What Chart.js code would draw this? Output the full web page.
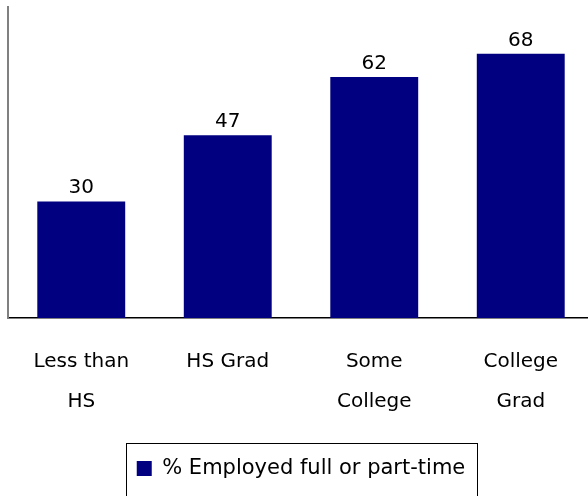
<!DOCTYPE html>
<html><head><meta charset="utf-8">
<script src="https://cdn.jsdelivr.net/npm/chart.js@4/dist/chart.umd.min.js"></script>
<style>html,body{margin:0;padding:0;background:#fff;overflow:hidden;}#wrap{width:588px;height:496px;overflow:hidden;}</style>
</head><body><div id="wrap"><canvas id="c" width="594" height="496"></canvas></div>
<script>
const categories = [['Less than','HS'], ['HS Grad'], ['Some','College'], ['College','Grad']];
const values = [30, 47, 62, 68];
const seriesName = '% Employed full or part-time';
const FONT = "'DejaVu Sans', sans-serif";

const valueLabels = {
  id: 'valueLabels',
  afterDatasetsDraw(chart) {
    const ctx = chart.ctx;
    const meta = chart.getDatasetMeta(0);
    ctx.save();
    ctx.font = "20px " + FONT;
    ctx.fillStyle = '#000';
    ctx.textAlign = 'center';
    ctx.textBaseline = 'alphabetic';
    meta.data.forEach((bar, i) => {
      ctx.fillText(String(values[i]), bar.x, bar.y - 8);
    });
    ctx.restore();
  }
};
const legendBorder = {
  id: 'legendBorder',
  afterDraw(chart) {
    const lg = chart.legend;
    if (!lg || !lg.legendHitBoxes || !lg.legendHitBoxes.length) return;
    const hb = lg.legendHitBoxes[0];
    const ctx = chart.ctx;
    ctx.save();
    ctx.strokeStyle = '#000';
    ctx.lineWidth = 1;
    const l = Math.round(hb.left) - 10.5;
    const r = Math.round(hb.left + hb.width) + 12.5;
    const t = Math.round(hb.top) - 14.5;
    ctx.strokeRect(l, t, r - l, 80);
    ctx.restore();
  }
};

new Chart(document.getElementById('c'), {
  type: 'bar',
  data: {
    labels: categories,
    datasets: [{
      label: seriesName,
      data: values,
      backgroundColor: '#000080',
      borderWidth: 0,
      categoryPercentage: 1.0,
      barPercentage: 0.60
    }]
  },
  options: {
    responsive: false,
    animation: false,
    devicePixelRatio: 1,
    layout: { padding: { left: 8, right: 0, top: 7, bottom: 7 } },
    plugins: {
      legend: {
        position: 'bottom',
        labels: {
          font: { family: FONT, size: 21 },
          color: '#000',
          boxWidth: 15,
          boxHeight: 15,
          padding: 10
        }
      },
      tooltip: { enabled: false }
    },
    scales: {
      x: {
        grid: { display: false, drawTicks: false },
        border: { color: '#000', width: 1.5 },
        ticks: {
          font: { family: FONT, size: 20, lineHeight: 2.0 },
          color: '#000',
          padding: 24,
          maxRotation: 0,
          autoSkip: false
        },
        afterFit(scale) { scale.height = 130; }
      },
      y: {
        min: 0, max: 80,
        grid: { display: false, drawTicks: false },
        border: { color: '#808080', width: 2 },
        ticks: { display: false }
      }
    }
  },
  plugins: [valueLabels, legendBorder]
});
</script></body></html>
